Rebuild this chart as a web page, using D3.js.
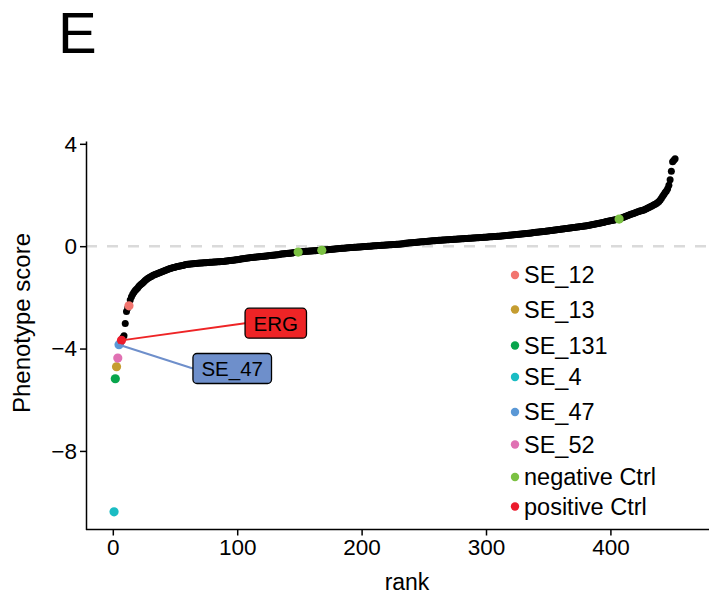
<!DOCTYPE html>
<html>
<head>
<meta charset="utf-8">
<script src="https://cdn.jsdelivr.net/npm/d3@7"></script>
<style>
  body { margin: 0; background: #fff; }
  text { font-family: "Liberation Sans", Arial, Helvetica, sans-serif; fill: #000; }
  .axis path, .axis line { stroke: #000; stroke-width: 1.5; }
  .axis text { font-size: 22.5px; fill: #000; }
</style>
</head>
<body>
<div id="chart"></div>
<script>
// sorted phenotype scores, rank 1..452
const scores = [
  -10.38, -5.18, -4.71, -4.37, -3.85, -3.78, -3.68, -3.58, -3.50, -3.02, -2.55, -2.42, -2.33, -2.10, -1.98, -1.88, -1.80, -1.73, -1.68, -1.63,
  -1.57, -1.52, -1.48, -1.44, -1.39, -1.34, -1.30, -1.26, -1.23, -1.20, -1.18, -1.15, -1.13, -1.11, -1.09, -1.07, -1.05, -1.03, -1.01, -0.99,
  -0.97, -0.95, -0.93, -0.91, -0.89, -0.87, -0.86, -0.84, -0.83, -0.82, -0.80, -0.79, -0.78, -0.77, -0.76, -0.75, -0.74, -0.73, -0.72, -0.71,
  -0.71, -0.70, -0.70, -0.69, -0.69, -0.68, -0.68, -0.67, -0.67, -0.66, -0.66, -0.66, -0.65, -0.65, -0.65, -0.64, -0.64, -0.63, -0.63, -0.63,
  -0.62, -0.62, -0.62, -0.61, -0.61, -0.61, -0.60, -0.60, -0.60, -0.59, -0.58, -0.58, -0.57, -0.56, -0.56, -0.55, -0.55, -0.54, -0.53, -0.53, -0.52,
  -0.51, -0.50, -0.49, -0.49, -0.48, -0.47, -0.46, -0.46, -0.45, -0.44, -0.44, -0.43, -0.43, -0.42, -0.42, -0.41, -0.41, -0.40, -0.40, -0.39,
  -0.39, -0.38, -0.38, -0.37, -0.36, -0.36, -0.35, -0.35, -0.34, -0.34, -0.33, -0.33, -0.32, -0.31, -0.31, -0.30, -0.30, -0.29, -0.29, -0.28,
  -0.28, -0.27, -0.27, -0.26, -0.25, -0.25, -0.24, -0.23, -0.23, -0.22, -0.22, -0.21, -0.21, -0.20, -0.20, -0.20, -0.19, -0.19, -0.19, -0.18,
  -0.18, -0.18, -0.17, -0.17, -0.17, -0.16, -0.16, -0.15, -0.15, -0.15, -0.14, -0.14, -0.13, -0.13, -0.12, -0.12, -0.11, -0.11, -0.10, -0.10,
  -0.09, -0.09, -0.08, -0.08, -0.08, -0.07, -0.07, -0.06, -0.06, -0.05, -0.05, -0.05, -0.04, -0.04, -0.04, -0.03, -0.03, -0.03, -0.02, -0.02, -0.01,
  -0.01, -0.01, 0.00, 0.00, 0.00, 0.01, 0.01, 0.02, 0.02, 0.02, 0.03, 0.03, 0.03, 0.04, 0.04, 0.04, 0.05, 0.05, 0.05, 0.06,
  0.06, 0.06, 0.07, 0.07, 0.07, 0.08, 0.08, 0.08, 0.09, 0.09, 0.10, 0.10, 0.11, 0.11, 0.12, 0.12, 0.13, 0.13, 0.13, 0.14,
  0.14, 0.15, 0.15, 0.16, 0.16, 0.17, 0.17, 0.17, 0.18, 0.18, 0.19, 0.19, 0.20, 0.20, 0.21, 0.21, 0.21, 0.22, 0.22, 0.23,
  0.23, 0.23, 0.24, 0.24, 0.24, 0.25, 0.25, 0.25, 0.26, 0.26, 0.26, 0.27, 0.27, 0.27, 0.28, 0.28, 0.28, 0.29, 0.29, 0.29,
  0.30, 0.30, 0.30, 0.31, 0.31, 0.31, 0.32, 0.32, 0.32, 0.33, 0.33, 0.33, 0.34, 0.34, 0.34, 0.35, 0.35, 0.35, 0.36, 0.36, 0.37,
  0.37, 0.37, 0.38, 0.38, 0.38, 0.39, 0.39, 0.39, 0.40, 0.40, 0.41, 0.41, 0.42, 0.42, 0.43, 0.43, 0.44, 0.44, 0.45, 0.45,
  0.46, 0.46, 0.47, 0.47, 0.48, 0.48, 0.49, 0.49, 0.50, 0.50, 0.51, 0.51, 0.52, 0.52, 0.53, 0.53, 0.54, 0.54, 0.55, 0.55,
  0.56, 0.56, 0.57, 0.57, 0.58, 0.59, 0.59, 0.60, 0.61, 0.61, 0.62, 0.63, 0.63, 0.64, 0.65, 0.65, 0.66, 0.67, 0.67, 0.68,
  0.69, 0.69, 0.70, 0.71, 0.71, 0.72, 0.73, 0.73, 0.74, 0.75, 0.75, 0.76, 0.77, 0.77, 0.78, 0.79, 0.79, 0.80, 0.81, 0.82,
  0.83, 0.84, 0.85, 0.86, 0.87, 0.88, 0.89, 0.90, 0.91, 0.92, 0.93, 0.94, 0.95, 0.96, 0.97, 0.98, 0.99, 1.00, 1.01, 1.02, 1.03,
  1.04, 1.05, 1.06, 1.08, 1.10, 1.12, 1.14, 1.16, 1.18, 1.20, 1.22, 1.24, 1.26, 1.27, 1.29, 1.31, 1.33, 1.35, 1.36, 1.38,
  1.38, 1.40, 1.41, 1.44, 1.46, 1.49, 1.51, 1.54, 1.56, 1.59, 1.62, 1.64, 1.67, 1.71, 1.75, 1.80, 1.87, 1.95, 2.02, 2.10,
  2.16, 2.24, 2.38, 2.60, 2.93, 3.30, 3.36, 3.42
];

// highlighted guides (rank -> group)
const hitRanks  = [1, 2, 3, 4, 5, 7, 13, 149, 168, 407];
const hitGroups = ["SE_4", "SE_131", "SE_13", "SE_52", "SE_47", "positive Ctrl", "SE_12",
                   "negative Ctrl", "negative Ctrl", "negative Ctrl"];

// legend
const groups = ["SE_12", "SE_13", "SE_131", "SE_4", "SE_47", "SE_52", "negative Ctrl", "positive Ctrl"];
const groupColors = ["#F2756F", "#C59D30", "#08A54C", "#1ABCC3", "#5A98D6", "#E071B3", "#7BC142", "#EC1B2C"];

// repel labels: name, rank of point, label centre in data units
const labelNames = ["ERG", "SE_47"];
const labelRanks = [7, 5];
const labelRank = [131, 96];
const labelScore = [-3.01, -4.78];
const labelFills = ["#EE2426", "#6E8FCB"];
const labelLines = ["#EE2426", "#6E8FCB"];

const xTicks = [0, 100, 200, 300, 400];
const yTicks = [4, 0, -4, -8];

const width = 709, height = 595,
  margin = { top: 141, bottom: 66, left: 86, right: 0 };

const n = scores.length;
const xPad = (n - 1) * 0.05,
  yExt = d3.extent(scores),
  yPad = (yExt[1] - yExt[0]) * 0.05;

const x = d3.scaleLinear()
  .domain([1 - xPad, n + xPad])
  .range([margin.left, margin.left + (n - 1 + 2 * xPad) * 1.244]);
const y = d3.scaleLinear()
  .domain([yExt[0] - yPad, yExt[1] + yPad])
  .range([height - margin.bottom + 0.5, margin.top]);

const color = d3.scaleOrdinal().domain(groups).range(groupColors);

const svg = d3.select("#chart").append("svg")
  .attr("width", width)
  .attr("height", height);

// panel title
svg.append("text")
  .attr("x", 58).attr("y", 53)
  .style("font-size", "58px")
  .text("E");

// zero line
svg.append("line")
  .attr("x1", margin.left).attr("x2", width)
  .attr("y1", y(0)).attr("y2", y(0))
  .attr("stroke", "#dadada")
  .attr("stroke-width", 2.5)
  .attr("stroke-dasharray", "11,10");

// all guides
const pts = scores.map((v, i) => ({ rank: i + 1, score: v }));
svg.append("g")
  .selectAll("circle")
  .data(pts)
  .join("circle")
  .attr("cx", d => x(d.rank))
  .attr("cy", d => y(d.score))
  .attr("r", 3.5)
  .attr("fill", "#000");

// label segments
const labs = labelNames.map((name, i) => ({
  name, rank: labelRanks[i], cx: x(labelRank[i]), cy: y(labelScore[i]),
  fill: labelFills[i], line: labelLines[i]
}));

// highlighted guides
const hits = hitRanks.map((r, i) => ({ rank: r, score: scores[r - 1], group: hitGroups[i] }));
svg.append("g")
  .selectAll("circle")
  .data(hits)
  .join("circle")
  .attr("cx", d => x(d.rank))
  .attr("cy", d => y(d.score))
  .attr("r", 4.6)
  .attr("fill", d => color(d.group));

const labG = svg.append("g").selectAll("g").data(labs).join("g");
labG.each(function(d) {
  const g = d3.select(this);
  const t = g.append("text")
    .attr("x", d.cx).attr("y", d.cy)
    .attr("text-anchor", "middle")
    .attr("dy", "0.36em")
    .style("font-size", "20.5px")
    .text(d.name);
  const bb = t.node().getBBox();
  const w = bb.width + 17, h = 30;
  g.insert("line", "text")
    .attr("x1", x(d.rank)).attr("y1", y(scores[d.rank - 1]))
    .attr("x2", d.cx - w / 2).attr("y2", d.cy)
    .attr("stroke", d.line).attr("stroke-width", 2);
  g.insert("rect", "text")
    .attr("x", d.cx - w / 2).attr("y", d.cy - h / 2)
    .attr("width", w).attr("height", h)
    .attr("rx", 4)
    .attr("fill", d.fill)
    .attr("stroke", "#000").attr("stroke-width", 1.3);
});

// axes
svg.append("g")
  .attr("class", "axis")
  .attr("transform", `translate(0,${y.range()[0]})`)
  .call(d3.axisBottom(x).tickValues(xTicks).tickSize(6).tickPadding(4).tickSizeOuter(0))
  .call(g => g.select(".domain").attr("d", `M${margin.left},0H${width}`));

svg.append("g")
  .attr("class", "axis")
  .attr("transform", `translate(${margin.left},0)`)
  .call(d3.axisLeft(y).tickValues(yTicks).tickSize(6).tickPadding(3).tickSizeOuter(0));

svg.append("text")
  .attr("transform", `translate(30,323) rotate(-90)`)
  .attr("text-anchor", "middle")
  .style("font-size", "24px")
  .text("Phenotype score");

svg.append("text")
  .attr("x", 407).attr("y", 590)
  .attr("text-anchor", "middle")
  .style("font-size", "23px")
  .text("rank");

// legend
const legendY = [275, 309.5, 345.5, 377, 412, 444.5, 477, 506.5];
const leg = svg.append("g").selectAll("g").data(groups).join("g")
  .attr("transform", (d, i) => `translate(515,${legendY[i]})`);
leg.append("circle").attr("r", 4.2).attr("fill", d => color(d));
leg.append("text")
  .attr("x", 9).attr("dy", "0.36em")
  .style("font-size", "23.5px")
  .text(d => d);
</script>
</body>
</html>
